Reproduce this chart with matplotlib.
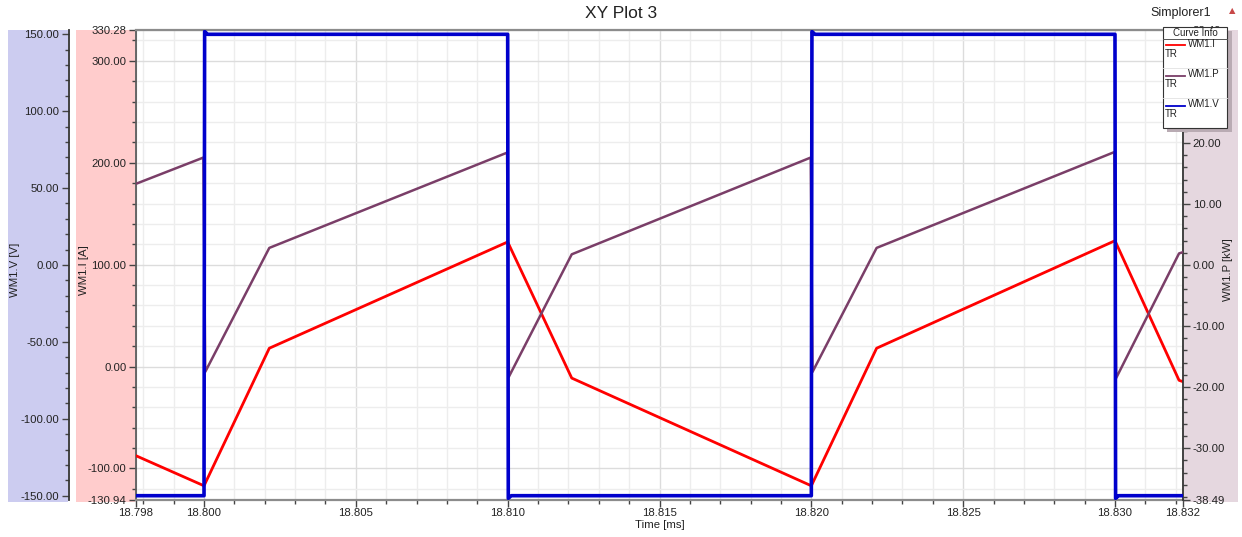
import matplotlib
matplotlib.use('Agg')
import matplotlib.pyplot as plt
from matplotlib.patches import Rectangle
from matplotlib.lines import Line2D
from matplotlib.ticker import MultipleLocator

plt.rcParams['font.family'] = ['Liberation Sans', 'DejaVu Sans']

# ---------------- data ----------------
t_I = [18.79776, 18.80000, 18.80215, 18.81000, 18.81211, 18.82000,
       18.82215, 18.83000, 18.83211, 18.83224]
I_A = [-87.5, -117.0, 18.0, 122.3, -11.3, -117.0, 18.0, 123.5, -13.5, -14.8]

t_P = [18.79776, 18.79998, 18.80004, 18.80215, 18.80998, 18.81004, 18.81211,
       18.81998, 18.82004, 18.82215, 18.82998, 18.83004, 18.83211, 18.83224]
P_kW = [13.3, 17.6, -17.5, 2.8, 18.4, -18.3, 1.75,
        17.6, -17.5, 2.8, 18.5, -18.5, 1.9, 2.1]

t_V = [18.79776, 18.80000, 18.80002, 18.80012, 18.81000, 18.81002, 18.81012,
       18.82000, 18.82002, 18.82012, 18.83000, 18.83002, 18.83012, 18.83224]
V_V = [-150, -150, 151.8, 150, 150, -151.7, -150,
       -150, 151.8, 150, 150, -151.7, -150, -150]

x_lim = (18.79776, 18.83224)
x_major = [18.800, 18.805, 18.810, 18.815, 18.820, 18.825, 18.830]
x_end_labels = ['18.798', '18.832']
I_lim = (-130.94, 330.28)
I_major = [-100, 0, 100, 200, 300]
V_lim = (-152.8, 152.8)
V_major = [-150, -100, -50, 0, 50, 100, 150]
P_lim = (-38.49, 38.49)
P_major = [-30, -20, -10, 0, 10, 20, 30]

series_names = ['WM1.I', 'WM1.P', 'WM1.V']
c_I, c_P, c_V = '#FF0000', '#7A3E68', '#0000CC'

# ---------------- layout ----------------
W, H = 1242, 537
fig = plt.figure(figsize=(W / 100, H / 100), dpi=100)
fig.patch.set_facecolor('white')


def fx(px):
    return px / W


def fy(py):
    return 1 - py / H


L, R, T, B = 136, 1183, 30, 500
ax = fig.add_axes([fx(L), fy(B), (R - L) / W, (B - T) / H])

# coloured axis bands
for x0, x1, col in [(8, 68, '#CCCCF0'), (76, 135, '#FFCCCC'), (1184, 1238, '#E5D7DF')]:
    fig.patches.append(Rectangle((fx(x0), fy(502)), (x1 - x0) / W, (502 - 30) / H,
                                 transform=fig.transFigure, facecolor=col,
                                 edgecolor='none', zorder=-5))

fmt = lambda v: f'{v:.2f}'
tick_fs = 8.2

# main axis: current
ax.set_xlim(*x_lim)
ax.set_ylim(*I_lim)
ax.plot(t_I, I_A, color=c_I, lw=2.0, zorder=3)
ax.set_xticks([x_lim[0]] + x_major + [x_lim[1]])
ax.set_xticklabels([x_end_labels[0]] + [f'{v:.3f}' for v in x_major] + [x_end_labels[1]])
ax.xaxis.set_minor_locator(MultipleLocator(0.001))
ax.set_yticks([I_lim[0]] + I_major + [I_lim[1]])
ax.set_yticklabels([fmt(v) for v in [I_lim[0]] + I_major + [I_lim[1]]])
ax.yaxis.set_minor_locator(MultipleLocator(20))
ax.tick_params(which='major', direction='out', length=5, width=1, color='#444444',
               labelsize=tick_fs, pad=2, labelcolor='#222222')
ax.tick_params(axis='x', which='major', pad=0.5)
ax.tick_params(which='minor', direction='out', length=3, width=1, color='#444444')
ax.grid(which='major', color='#DCDCDC', lw=1.0)
ax.grid(which='minor', color='#EDEDED', lw=1.0)
ax.set_axisbelow(True)
for s in ['top', 'bottom']:
    ax.spines[s].set_color('#8C8C8C')
    ax.spines[s].set_linewidth(1.6)
ax.spines['left'].set_color('#5A5A5A')
ax.spines['left'].set_linewidth(1.3)
ax.spines['right'].set_visible(False)

# power axis (right)
ax_p = ax.twinx()
ax_p.set_ylim(*P_lim)
ax_p.plot(t_P, P_kW, color=c_P, lw=1.8, zorder=3)
ax_p.set_yticks([P_lim[0]] + P_major + [P_lim[1]])
ax_p.set_yticklabels([fmt(v) for v in [P_lim[0]] + P_major + [P_lim[1]]])
ax_p.yaxis.set_minor_locator(MultipleLocator(2))
ax_p.tick_params(which='major', direction='out', length=5, width=1, color='#444444',
                 labelsize=tick_fs, pad=2, labelcolor='#222222')
ax_p.tick_params(which='minor', direction='out', length=3, width=1, color='#444444')
for s in ['top', 'bottom', 'left']:
    ax_p.spines[s].set_visible(False)
ax_p.spines['right'].set_color('#333333')
ax_p.spines['right'].set_linewidth(1.3)

# voltage axis (far left)
ax_v = ax.twinx()
ax_v.set_ylim(*V_lim)
ax_v.plot(t_V, V_V, color=c_V, lw=2.6, zorder=3)
ax_v.spines['left'].set_visible(True)
ax_v.spines['left'].set_position(('axes', (68.5 - L) / (R - L)))
ax_v.spines['left'].set_color('#333333')
ax_v.spines['left'].set_linewidth(1.3)
for s in ['top', 'bottom', 'right']:
    ax_v.spines[s].set_visible(False)
ax_v.yaxis.set_ticks_position('left')
ax_v.set_yticks(V_major)
ax_v.set_yticklabels([fmt(v) for v in V_major])
ax_v.yaxis.set_minor_locator(MultipleLocator(10))
ax_v.tick_params(which='major', direction='out', length=5, width=1, color='#444444',
                 labelsize=tick_fs, pad=2, labelcolor='#222222')
ax_v.tick_params(which='minor', direction='out', length=3, width=1, color='#444444')

# texts
fig.text(fx(621), fy(13), 'XY Plot 3', ha='center', va='center', fontsize=12.5, color='#222222')
fig.text(fx(1181), fy(13), 'Simplorer1', ha='center', va='center', fontsize=9, color='#222222')
fig.text(fx(1232), fy(11), '\u25B2', ha='center', va='center', fontsize=6,
         color='#C84848', family=['DejaVu Sans'])
fig.text(fx(660), fy(525), 'Time [ms]', ha='center', va='center', fontsize=8.2, color='#222222')
fig.text(fx(15), fy(270), 'WM1.V [V]', ha='center', va='center', rotation=90, fontsize=8.2, color='#222222')
fig.text(fx(84), fy(270), 'WM1.I [A]', ha='center', va='center', rotation=90, fontsize=8.2, color='#222222')
fig.text(fx(1228), fy(270), 'WM1.P [kW]', ha='center', va='center', rotation=90, fontsize=8.2, color='#222222')

# legend ("Curve Info" box)
fig.patches.append(Rectangle((fx(1167), fy(132)), (1232 - 1167) / W, (132 - 31) / H,
                             transform=fig.transFigure, facecolor='#B9ABB3',
                             edgecolor='none', zorder=5))
fig.patches.append(Rectangle((fx(1163), fy(128)), (1227 - 1163) / W, (128 - 27) / H,
                             transform=fig.transFigure, facecolor='white',
                             edgecolor='#333333', lw=0.8, zorder=6))


def fline(x0, y0, x1, y1, **kw):
    fig.add_artist(Line2D([fx(x0), fx(x1)], [fy(y0), fy(y1)],
                          transform=fig.transFigure, zorder=7, **kw))


leg_fs = 7.0
fig.text(fx(1195), fy(32.5), 'Curve Info', ha='center', va='center', fontsize=leg_fs,
         color='#222222', zorder=8)
fline(1163, 38.5, 1227, 38.5, color='#555555', lw=0.7)
for k, (name, col) in enumerate(zip(series_names, [c_I, c_P, c_V])):
    y0 = 45.5 + 30 * k
    fline(1166, y0, 1185, y0, color=col, lw=1.3)
    fig.text(fx(1188), fy(y0 - 1.5), name, ha='left', va='center', fontsize=leg_fs,
             color='#222222', zorder=8)
    fig.text(fx(1164.5), fy(y0 + 8.5), 'TR', ha='left', va='center', fontsize=leg_fs,
             color='#222222', zorder=8)
    if k < 2:
        fline(1163, y0 + 22, 1227, y0 + 22, color='#E2E2E2', lw=0.6)

fig.savefig('out.png', dpi=100)
